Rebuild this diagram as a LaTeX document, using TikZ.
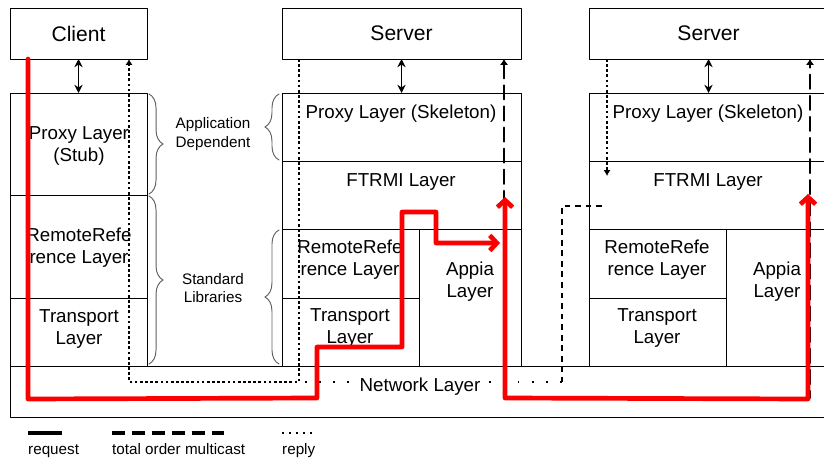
\documentclass[tikz,border=0pt]{standalone}
\usepackage{fontspec}
\setmainfont{Liberation Sans}
\usetikzlibrary{arrows.meta,decorations.pathreplacing}

\definecolor{reqred}{RGB}{250,0,0}
\definecolor{bracegray}{RGB}{95,95,95}

\tikzset{
    cell/.style={draw,line width=0.7pt,anchor=north west,inner sep=0pt,outer sep=0pt},
    hosttext/.style={font=\fontsize{18}{21}\selectfont},
    layertext/.style={font=\fontsize{16}{19}\selectfont,align=center,inner sep=0pt},
    note/.style={font=\fontsize{13}{15.5}\selectfont,align=center,inner sep=0pt},
    link/.style={line width=1.2pt,{Stealth[length=7pt,width=7pt]}-{Stealth[length=7pt,width=7pt]}},
    request/.style={reqred,line width=4pt},
    multicast/.style={line width=1.8pt,dash pattern=on 12pt off 6pt},
    reply/.style={line width=2.3pt,dash pattern=on 2.3pt off 2.1pt,line cap=butt},
    libbrace/.style={decorate,decoration={brace,amplitude=12pt,aspect=0.5},
        line width=0.8pt,bracegray}
}

\begin{document}
\begin{tikzpicture}[x=0.03cm,y=-0.03cm,line cap=round,line join=round]
        \useasboundingbox (0,0) rectangle (824,458);
        \clip (0,0) rectangle (824,458);

        % client side
        \node[cell,hosttext,minimum width=4.11cm,minimum height=1.53cm] (client) at (10,8) {Client};
        \node[cell,minimum width=4.11cm,minimum height=3.06cm] (cproxy) at (10,93) {};
        \node[cell,minimum width=4.11cm,minimum height=3.09cm] (cremote) at (10,195) {};
        \node[cell,minimum width=4.11cm,minimum height=2.04cm] (ctrans) at (10,298) {};
        \node[layertext] (cproxylbl) at (79,146) {Proxy Layer\\(Stub)};
        \node[layertext] (cremotelbl) at (79,248) {RemoteRefe\\rence Layer};
        \node[layertext] (ctranslbl) at (79,329) {Transport\\Layer};

        % network layer under everything
        \node[cell,minimum width=24.54cm,minimum height=1.53cm] (network) at (10,366) {};

        % first server
        \node[cell,hosttext,minimum width=7.17cm,minimum height=1.53cm] (sbox) at (282,8) {Server};
        \node[cell,minimum width=7.17cm,minimum height=2.04cm] (sproxy) at (282,93) {};
        \node[cell,minimum width=7.17cm,minimum height=2.04cm] (sftrmi) at (282,161) {};
        \node[cell,minimum width=4.11cm,minimum height=2.07cm] (sremote) at (282,229) {};
        \node[cell,minimum width=4.11cm,minimum height=2.04cm] (strans) at (282,298) {};
        \node[cell,minimum width=3.06cm,minimum height=4.11cm] (sappia) at (419,229) {};
        \node[layertext] (sproxylbl) at (401,114) {Proxy Layer (Skeleton)};
        \node[layertext] (sftrmilbl) at (401,182) {FTRMI Layer};
        \node[layertext] (sremotelbl) at (350,260) {RemoteRefe\\rence Layer};
        \node[layertext] (stranslbl) at (350,328) {Transport\\Layer};
        \node[layertext] (sappialbl) at (470,282) {Appia\\Layer};

        % second server
        \node[cell,hosttext,minimum width=7.17cm,minimum height=1.53cm] (tbox) at (589,8) {Server};
        \node[cell,minimum width=7.17cm,minimum height=2.04cm] (tproxy) at (589,93) {};
        \node[cell,minimum width=7.17cm,minimum height=2.04cm] (tftrmi) at (589,161) {};
        \node[cell,minimum width=4.11cm,minimum height=2.07cm] (tremote) at (589,229) {};
        \node[cell,minimum width=4.11cm,minimum height=2.04cm] (ttrans) at (589,298) {};
        \node[cell,minimum width=3.06cm,minimum height=4.11cm] (tappia) at (726,229) {};
        \node[layertext] (tproxylbl) at (708,114) {Proxy Layer (Skeleton)};
        \node[layertext] (tftrmilbl) at (708,182) {FTRMI Layer};
        \node[layertext] (tremotelbl) at (657,260) {RemoteRefe\\rence Layer};
        \node[layertext] (ttranslbl) at (657,328) {Transport\\Layer};
        \node[layertext] (tappialbl) at (777,282) {Appia\\Layer};

        \draw[link] (client.south) -- (cproxy.north);
        \draw[link] (sbox.south) -- (sproxy.north);
        \draw[link] (tbox.south) -- (tproxy.north);

        % braces between client and server
        \draw[libbrace] (149,94) -- (149,194);
        \draw[libbrace] (149,196) -- (149,364);
        \draw[libbrace] (279,160) -- (279,94);
        \draw[libbrace] (279,364) -- (279,230);
        \node[note] (appdep) at (213,134) {Application\\Dependent};
        \node[note] (stdlib) at (213,288) {Standard\\Libraries};

        % reply path
        \coordinate (rpS) at (299,382);
        \coordinate (rpC) at (129,382);
        \coordinate (rpT) at (607,176);
        \draw[reply,-{Latex[length=5pt,width=6pt]}] (sbox.south -| rpS) -- (rpS) -- (rpC) -- (client.south -| rpC);
        \draw[reply,-{Latex[length=5pt,width=6pt]}] (tbox.south -| rpT) -- (rpT);

        % ordering traffic out of the second FTRMI layer
        \coordinate (mcF) at (602,206);
        \coordinate (mcK) at (562,206);
        \coordinate (mcT) at (562,382);
        \draw[line width=1.5pt,dash pattern=on 5pt off 4pt,line cap=butt] (mcF) -- (mcK) -- (mcT);
        \draw[line width=1.4pt,dash pattern=on 1.6pt off 10.5pt,line cap=butt] (mcT) -- (rpS);
        \node[layertext,fill=white,inner sep=1pt] (netlbl) at (420,387) {Network Layer};

        % total order multicast
        \coordinate (mcS) at (504,398);
        \coordinate (mcR) at (810,398);
        \draw[multicast,{Latex[length=5pt,width=7pt]}-{Latex[length=5pt,width=7pt]}]
            (sbox.south -| mcS) -- (mcS) -- (mcR) -- (tbox.south -| mcR);

        % request, drawn over by hand
        \coordinate (rqA) at (28,399);
        \coordinate (rqB) at (317,398);
        \coordinate (rqC) at (317,347);
        \coordinate (rqD) at (402,347);
        \coordinate (rqE) at (402,212);
        \coordinate (rqF) at (436,212);
        \coordinate (rqG) at (436,243);
        \coordinate (rqH) at (500,243);
        \draw[request,-{Straight Barb[length=6pt,width=13pt]}]
            (client.south -| rqA) -- (rqA) -- (rqB) -- (rqC) -- (rqD) -- (rqE) -- (rqF) -- (rqG) -- (rqH);
        \coordinate (rqI) at (505,197);
        \coordinate (rqJ) at (505,398);
        \coordinate (rqK) at (808,399);
        \coordinate (rqL) at (808,194);
        \draw[request,{Straight Barb[length=6pt,width=13pt]}-{Straight Barb[length=6pt,width=13pt]}]
            (rqI) -- (rqJ) -- (rqK) -- (rqL);

        % legend
        \coordinate (lgA) at (28,433);
        \coordinate (lgB) at (62,433);
        \coordinate (lgC) at (112,433);
        \coordinate (lgD) at (230,433);
        \coordinate (lgE) at (282,433);
        \coordinate (lgF) at (317,433);
        \draw[line width=2.6pt,line cap=butt] (lgA) -- (lgB);
        \draw[line width=2.6pt,dash pattern=on 11pt off 6pt,line cap=butt] (lgC) -- (lgD);
        \draw[line width=2.2pt,dash pattern=on 2pt off 4pt,line cap=butt] (lgE) -- (lgF);
        \node[note,anchor=base west] (lgreq) at (28,454) {request};
        \node[note,anchor=base west] (lgmc) at (112,454) {total order multicast};
        \node[note,anchor=base west] (lgrep) at (282,454) {reply};
    \end{tikzpicture}
\end{document}
